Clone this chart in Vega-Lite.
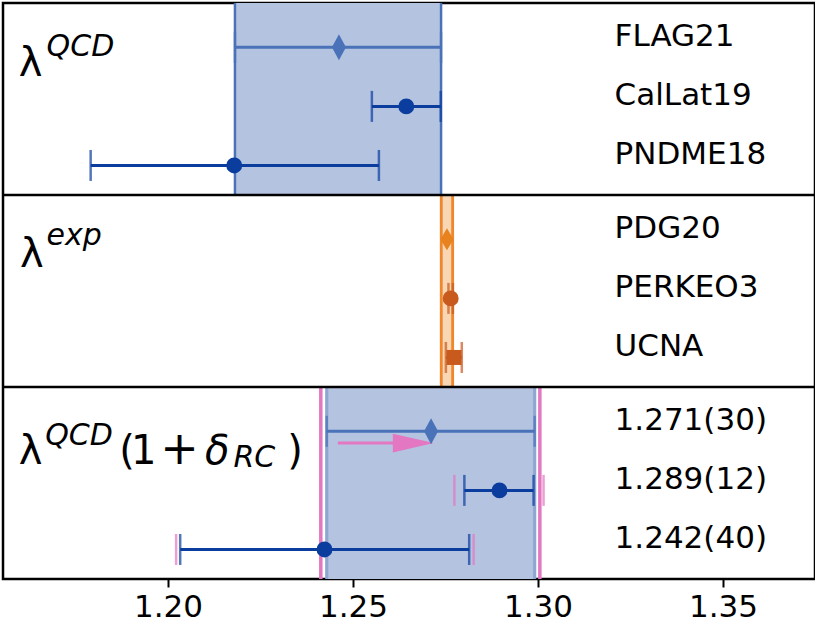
{
  "$schema": "https://vega.github.io/schema/vega-lite/v6.json",
  "padding": {"top": 1, "left": 1, "right": 2, "bottom": 0},
  "background": "#ffffff",
  "width": 812,
  "height": 576,
  "config": {
    "view": {"stroke": "#000000", "strokeWidth": 2.5},
    "font": "DejaVu Sans",
    "text": {"font": "DejaVu Sans", "color": "#000000"}
  },
  "datasets": {
    "meas": [
      {"name": "FLAG21", "grp": "FLAG", "y": 0, "val": 1.2462, "lo": 1.2181, "hi": 1.2738},
      {"name": "CalLat19", "grp": "LQCD", "y": 1, "val": 1.2644, "lo": 1.2551, "hi": 1.2737},
      {"name": "PNDME18", "grp": "LQCD", "y": 2, "val": 1.2179, "lo": 1.1791, "hi": 1.2570},
      {"name": "PDG20", "grp": "PDG", "y": 3.25, "val": 1.2754, "lo": 1.2741, "hi": 1.2767},
      {"name": "PERKEO3", "grp": "EXP", "y": 4.25, "val": 1.2764, "lo": 1.2758, "hi": 1.2770},
      {"name": "UCNA", "grp": "EXP", "y": 5.25, "val": 1.2773, "lo": 1.2751, "hi": 1.2794},
      {"name": "1.271(30)", "grp": "FLAG", "y": 6.5, "val": 1.2711, "lo": 1.2429, "hi": 1.2991},
      {"name": "1.289(12)", "grp": "LQCD", "y": 7.5, "val": 1.2896, "lo": 1.2801, "hi": 1.2988},
      {"name": "1.242(40)", "grp": "LQCD", "y": 8.5, "val": 1.2423, "lo": 1.2033, "hi": 1.2814}
    ],
    "pinkbars": [
      {"y": 7.5, "lo": 1.2774, "hi": 1.3015},
      {"y": 8.5, "lo": 1.2022, "hi": 1.2826}
    ],
    "bands": [
      {"band": "QCD", "lo": 1.2181, "hi": 1.2738, "top": -0.75, "bottom": 2.5},
      {"band": "EXP", "lo": 1.27385, "hi": 1.27693, "top": 2.5, "bottom": 5.75},
      {"band": "RC", "lo": 1.2429, "hi": 1.2991, "top": 5.75, "bottom": 9.0}
    ],
    "edges": [
      {"band": "QCD", "v": 1.2181, "top": -0.75, "bottom": 2.5},
      {"band": "QCD", "v": 1.2738, "top": -0.75, "bottom": 2.5},
      {"band": "EXP", "v": 1.27385, "top": 2.5, "bottom": 5.75},
      {"band": "EXP", "v": 1.27693, "top": 2.5, "bottom": 5.75},
      {"band": "RCIN", "v": 1.2429, "top": 5.75, "bottom": 9.0},
      {"band": "RCIN", "v": 1.2991, "top": 5.75, "bottom": 9.0},
      {"band": "RCOUT", "v": 1.2413, "top": 5.75, "bottom": 9.0},
      {"band": "RCOUT", "v": 1.3005, "top": 5.75, "bottom": 9.0}
    ],
    "arrow": [{"from": 1.2459, "to": 1.2615, "head": 1.2663, "y": 6.7}]
  },
  "layer": [
    {"data": {"name": "bands"},
     "mark": {"type": "rect"},
     "encoding": {
       "x": {"field": "lo", "type": "quantitative", "scale": {"domain": [1.15541, 1.37486], "nice": false, "zero": false},
         "axis": {"values": [1.2, 1.25, 1.3, 1.35], "format": ".2f", "labelFontSize": 31, "labelFont": "DejaVu Sans", "labelColor": "#000000", "tickSize": 8, "tickWidth": 2, "tickColor": "#000000", "domain": false, "grid": false, "title": null, "labelPadding": 5}},
       "x2": {"field": "hi"},
       "y": {"field": "top", "type": "quantitative", "scale": {"domain": [-0.75, 9.0], "reverse": true, "nice": false, "zero": false}, "axis": null},
       "y2": {"field": "bottom"},
       "fill": {"field": "band", "type": "nominal", "scale": {"domain": ["QCD", "EXP", "RC"], "range": ["#b4c4e0", "#f9d6b4", "#b4c4e0"]}, "legend": null}
     }},
    {"data": {"name": "edges"},
     "mark": {"type": "rule"},
     "encoding": {
       "x": {"field": "v", "type": "quantitative"},
       "y": {"field": "top", "type": "quantitative"},
       "y2": {"field": "bottom"},
       "stroke": {"field": "band", "type": "nominal", "scale": {"domain": ["QCD", "EXP", "RCIN", "RCOUT"], "range": ["#4a72b8", "#f0872a", "#8fa6d2", "#e377c2"]}, "legend": null},
       "strokeWidth": {"field": "band", "type": "nominal", "scale": {"domain": ["QCD", "EXP", "RCIN", "RCOUT"], "range": [2.5, 3.5, 1.5, 3]}, "legend": null}
     }},
    {"data": {"values": [{"y": 2.5}, {"y": 5.75}]},
     "mark": {"type": "rule", "color": "#000000", "strokeWidth": 2.5},
     "encoding": {"y": {"field": "y", "type": "quantitative"}}},
    {"data": {"name": "pinkbars"},
     "mark": {"type": "tick", "orient": "vertical", "size": 31, "thickness": 2.5, "color": "#e377c2"},
     "encoding": {"x": {"field": "lo", "type": "quantitative"}, "y": {"field": "y", "type": "quantitative"}}},
    {"data": {"name": "pinkbars"},
     "mark": {"type": "tick", "orient": "vertical", "size": 31, "thickness": 2.5, "color": "#e377c2"},
     "encoding": {"x": {"field": "hi", "type": "quantitative"}, "y": {"field": "y", "type": "quantitative"}}},
    {"data": {"name": "meas"},
     "mark": {"type": "rule", "strokeWidth": 3},
     "encoding": {"x": {"field": "lo", "type": "quantitative"}, "x2": {"field": "hi"}, "y": {"field": "y", "type": "quantitative"},
       "color": {"field": "grp", "type": "nominal", "scale": {"domain": ["FLAG", "LQCD", "PDG", "EXP"], "range": ["#4a72b8", "#0b3d9e", "#e8821e", "#c85a1e"]}, "legend": null}}},
    {"data": {"name": "meas"},
     "transform": [{"filter": "datum.grp != 'PDG'"}],
     "mark": {"type": "tick", "orient": "vertical", "size": 31, "thickness": 2.5},
     "encoding": {"x": {"field": "lo", "type": "quantitative"}, "y": {"field": "y", "type": "quantitative"}, "color": {"field": "grp", "type": "nominal", "legend": null}}},
    {"data": {"name": "meas"},
     "transform": [{"filter": "datum.grp != 'PDG'"}],
     "mark": {"type": "tick", "orient": "vertical", "size": 31, "thickness": 2.5},
     "encoding": {"x": {"field": "hi", "type": "quantitative"}, "y": {"field": "y", "type": "quantitative"}, "color": {"field": "grp", "type": "nominal", "legend": null}}},
    {"data": {"name": "arrow"},
     "mark": {"type": "rule", "color": "#e377c2", "strokeWidth": 3},
     "encoding": {"x": {"field": "from", "type": "quantitative"}, "x2": {"field": "to"}, "y": {"field": "y", "type": "quantitative"}}},
    {"data": {"name": "arrow"},
     "mark": {"type": "point", "filled": true, "opacity": 1, "color": "#e377c2", "shape": "M-1,-0.46L1,0L-1,0.46Z", "size": 1681},
     "encoding": {"x": {"field": "head", "type": "quantitative"}, "y": {"field": "y", "type": "quantitative"}}},
    {"data": {"name": "meas"},
     "transform": [{"filter": "datum.grp == 'FLAG'"}],
     "mark": {"type": "point", "filled": true, "opacity": 1, "shape": "M0,-1L0.54,0L0,1L-0.54,0Z", "size": 676},
     "encoding": {"x": {"field": "val", "type": "quantitative"}, "y": {"field": "y", "type": "quantitative"}, "color": {"field": "grp", "type": "nominal", "legend": null}}},
    {"data": {"name": "meas"},
     "transform": [{"filter": "datum.grp == 'PDG'"}],
     "mark": {"type": "point", "filled": true, "opacity": 1, "shape": "M0,-1L0.6,0L0,1L-0.6,0Z", "size": 480},
     "encoding": {"x": {"field": "val", "type": "quantitative"}, "y": {"field": "y", "type": "quantitative"}, "color": {"field": "grp", "type": "nominal", "legend": null}}},
    {"data": {"name": "meas"},
     "transform": [{"filter": "datum.grp == 'LQCD' || datum.name == 'PERKEO3'"}],
     "mark": {"type": "point", "filled": true, "opacity": 1, "shape": "circle", "size": 254},
     "encoding": {"x": {"field": "val", "type": "quantitative"}, "y": {"field": "y", "type": "quantitative"}, "color": {"field": "grp", "type": "nominal", "legend": null}}},
    {"data": {"name": "meas"},
     "transform": [{"filter": "datum.name == 'UCNA'"}],
     "mark": {"type": "point", "filled": true, "opacity": 1, "shape": "square", "size": 225},
     "encoding": {"x": {"field": "val", "type": "quantitative"}, "y": {"field": "y", "type": "quantitative"}, "color": {"field": "grp", "type": "nominal", "legend": null}}},
    {"data": {"name": "meas"},
     "mark": {"type": "text", "align": "left", "baseline": "middle", "dy": -10, "fontSize": 31},
     "encoding": {"x": {"datum": 1.3207}, "y": {"field": "y", "type": "quantitative"}, "text": {"field": "name"}}},
    {"data": {"values": [
       {"t": "λ", "x": 1.1597, "y": 0.486},
       {"t": "λ", "x": 1.1600, "y": 3.719},
       {"t": "λ", "x": 1.1597, "y": 7.05},
       {"t": "(", "x": 1.1868, "y": 7.05},
       {"t": "1", "x": 1.1900, "y": 7.05},
       {"t": ")", "x": 1.2322, "y": 7.05}
     ]},
     "mark": {"type": "text", "align": "left", "baseline": "alphabetic", "fontSize": 40},
     "encoding": {"x": {"field": "x", "type": "quantitative"}, "y": {"field": "y", "type": "quantitative"}, "text": {"field": "t"}}},
    {"data": {"values": [{"t": "+", "x": 1.2031, "y": 7.05}]},
     "mark": {"type": "text", "align": "center", "baseline": "alphabetic", "fontSize": 46},
     "encoding": {"x": {"field": "x", "type": "quantitative"}, "y": {"field": "y", "type": "quantitative"}, "text": {"field": "t"}}},
    {"data": {"values": [{"t": "δ", "x": 1.2100, "y": 7.05}]},
     "mark": {"type": "text", "align": "left", "baseline": "alphabetic", "fontSize": 40, "fontStyle": "italic"},
     "encoding": {"x": {"field": "x", "type": "quantitative"}, "y": {"field": "y", "type": "quantitative"}, "text": {"field": "t"}}},
    {"data": {"values": [
       {"t": "QCD", "x": 1.1672, "y": 0.147},
       {"t": "exp", "x": 1.1672, "y": 3.346},
       {"t": "QCD", "x": 1.1668, "y": 6.732},
       {"t": "RC", "x": 1.2177, "y": 7.104}
     ]},
     "mark": {"type": "text", "align": "left", "baseline": "alphabetic", "fontSize": 30, "fontStyle": "italic"},
     "encoding": {"x": {"field": "x", "type": "quantitative"}, "y": {"field": "y", "type": "quantitative"}, "text": {"field": "t"}}}
  ]
}
